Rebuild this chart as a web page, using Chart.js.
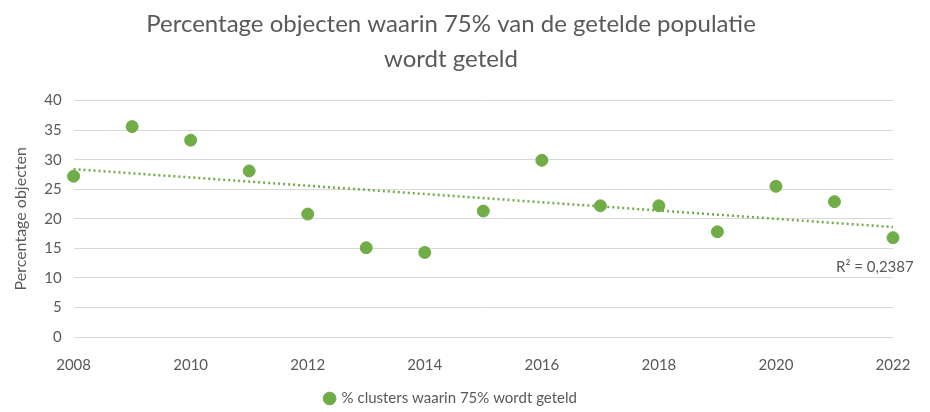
<!DOCTYPE html>
<html>
<head>
<meta charset="utf-8">
<script src="https://cdn.jsdelivr.net/npm/chart.js@4/dist/chart.umd.min.js"></script>
<style>
  html,body{margin:0;padding:0;background:#fff;}
  #wrap{width:930px;height:412px;position:relative;}
</style>
</head>
<body>
<div id="wrap"><canvas id="c"></canvas></div>
<script>
const years = [2008,2009,2010,2011,2012,2013,2014,2015,2016,2017,2018,2019,2020,2021,2022];
const pct   = [27.2,35.6,33.3,28.1,20.8,15.1,14.3,21.3,29.9,22.2,22.2,17.8,25.5,22.9,16.8];
const trendYears  = [2008,2022];
const trendValues = [28.4,18.6];
const r2Label = "R² = 0,2387";
const seriesLabel = "% clusters waarin 75% wordt geteld";
const titleLines = ["Percentage objecten waarin 75% van de getelde populatie","wordt geteld"];

(function(){
  const green = "#70ad47";
  const grey = "#595959";
  const font = "Lato, 'Open Sans', sans-serif";

  const r2Plugin = {
    id:"r2",
    afterDatasetsDraw(chart){
      const x = chart.scales.x, y = chart.scales.y, ctx = chart.ctx;
      ctx.save();
      ctx.font = "15px " + font;
      ctx.fillStyle = grey;
      ctx.textAlign = "left";
      ctx.textBaseline = "middle";
      ctx.fillText(r2Label, x.getPixelForValue(2022) - 57, y.getPixelForValue(11.8));
      ctx.restore();
    }
  };

  new Chart(document.getElementById("c").getContext("2d"), {
    type:"scatter",
    data:{
      datasets:[
        { label: seriesLabel, data: years.map((x,i)=>({x, y:pct[i]})), clip:false,
          backgroundColor: green, borderColor: green, pointRadius:6, pointHoverRadius:6 },
        { label: "trend", type:"line", data: trendYears.map((x,i)=>({x, y:trendValues[i]})), clip:false,
          borderColor: green, borderWidth:2.5, borderDash:[2,3], pointRadius:0, fill:false }
      ]
    },
    options:{
      responsive:true, maintainAspectRatio:false, animation:false,
      layout:{ padding:{ left:9, right:37, top:7, bottom:-4 } },
      plugins:{
        title:{ display:true, text:titleLines, color:grey,
          font:{ family:font, size:24, weight:"normal", lineHeight:1.45 }, padding:{ top:0, bottom:24 } },
        legend:{ position:"bottom",
          labels:{ usePointStyle:true, pointStyle:"circle", boxWidth:9, boxHeight:9, color:grey,
            font:{ family:font, size:15 }, padding:6,
            filter: item => item.datasetIndex === 0 } },
        tooltip:{ enabled:false }
      },
      scales:{
        x:{ type:"linear", min:2008, max:2022,
          grid:{ display:false }, border:{ display:false },
          ticks:{ stepSize:2, color:grey, font:{ family:font, size:15 }, callback: v => String(v), padding:11 } },
        y:{ min:0, max:40,
          grid:{ color:"#d9d9d9", drawTicks:false }, border:{ display:false },
          ticks:{ stepSize:5, color:grey, font:{ family:font, size:15 }, padding:12 },
          title:{ display:true, text:"Percentage objecten", color:grey, font:{ family:font, size:16 }, padding:2 } }
      }
    },
    plugins:[r2Plugin]
  });
})();
</script>
</body>
</html>
